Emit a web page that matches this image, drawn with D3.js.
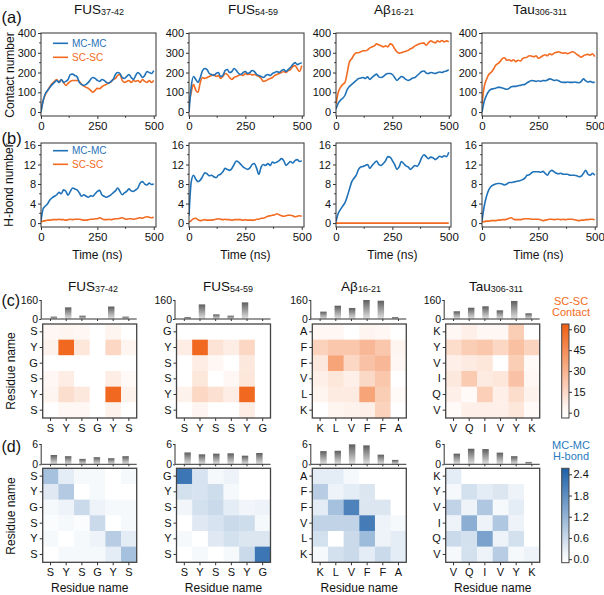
<!DOCTYPE html>
<html><head><meta charset="utf-8">
<script src="https://cdn.jsdelivr.net/npm/d3@7"></script>
<style>body{margin:0;background:#fff}svg{display:block}text{font-family:"Liberation Sans",Arial,Helvetica,sans-serif}</style>
</head><body><svg id="c" width="604" height="595"></svg>
<script>
// ---------------- DATA ----------------
const titleMain = ["FUS", "FUS", "A\u03b2", "Tau"];
const titleSub = ["37-42", "54-59", "16-21", "306-311"];

const T = [0,10,20,30,40,50,60,70,80,90,100,110,120,130,140,150,160,170,180,190,200,210,220,230,240,250,260,270,280,290,300,310,320,330,340,350,360,370,380,390,400,410,420,430,440,450,460,470,480,490,500];

const contactMC_FUS37 = [0,60,95,110,125,140,150,160,150,165,150,155,165,190,192,185,178,150,140,135,140,150,165,175,170,160,155,165,160,150,145,155,165,190,200,195,175,170,180,190,175,165,185,200,190,175,185,205,200,195,210];
const contactSC_FUS37 = [10,60,90,110,130,145,155,165,150,162,150,135,145,155,160,160,160,155,140,132,125,120,110,100,110,120,118,128,135,140,148,152,165,170,185,190,160,150,155,160,150,160,155,160,150,165,155,150,160,150,160];
const contactMC_FUS54 = [0,130,180,165,150,175,210,220,215,195,190,185,195,200,180,185,210,215,200,205,220,210,195,190,200,205,195,200,210,205,190,185,180,175,185,190,185,195,200,205,200,210,215,205,215,225,240,250,240,245,250];
const contactSC_FUS54 = [40,100,140,110,100,150,175,170,175,180,185,190,180,185,170,180,195,190,175,165,175,180,185,190,185,195,190,192,188,190,185,180,170,155,158,165,170,175,185,190,195,200,205,200,210,215,230,235,220,205,235];
const contactMC_Ab = [15,45,60,70,85,115,130,140,150,160,170,172,175,170,178,165,175,185,192,178,175,180,190,195,195,190,175,160,170,180,175,165,160,165,172,175,185,195,205,208,198,195,200,198,195,200,203,200,205,208,215];
const contactSC_Ab = [40,100,125,140,150,200,255,270,290,300,300,305,310,310,315,325,330,335,345,340,335,330,335,330,345,340,320,305,298,300,305,308,312,320,325,335,340,345,348,350,338,350,360,355,350,360,355,362,355,360,355];
const contactMC_Tau = [0,55,85,105,115,118,120,125,125,122,118,115,120,128,130,130,133,135,138,140,148,155,160,158,155,158,155,160,158,162,168,165,160,162,158,152,150,150,152,150,150,152,150,148,155,168,158,152,155,150,150];
const contactSC_Tau = [40,130,165,190,200,215,235,245,255,270,275,262,265,258,265,255,262,258,270,275,278,285,283,280,285,272,278,285,290,285,295,290,298,302,305,300,298,300,295,300,305,302,292,285,278,285,290,292,288,295,280];

const hbMC_FUS37 = [0.5,3,3.5,4,4.8,5.2,5.5,5.8,6.3,6,6.8,6.5,5.7,6.5,7.2,7,6.8,6.2,5.5,5.8,5.5,5.3,5.6,5.5,6,6.5,6.7,5.8,5.5,5.3,5.5,5.8,6.2,6.6,7.2,6.5,5.8,6.2,6.5,7,6.6,6.5,6.8,7.2,8.2,8.5,8,7.8,8.2,7.9,8];
const hbSC_FUS37 = [0.3,0.4,0.5,0.6,0.6,0.7,0.7,0.7,0.8,0.7,0.7,0.6,0.7,0.8,0.7,0.8,0.8,0.8,0.7,0.6,0.6,0.7,0.8,0.8,0.9,0.9,1.1,0.9,0.7,0.7,0.8,0.7,0.8,0.9,0.9,1.0,1.1,0.9,0.8,0.9,0.9,0.8,0.9,1.0,1.1,1.0,1.2,1.3,1.2,1.1,1.2];
const hbMC_FUS54 = [1.5,8.5,9.8,9,8.5,8.8,9.5,10.3,10.1,9.7,9.8,9.5,9.3,9.8,10,10.5,11.2,11,10.8,11.2,12,12.7,12.5,12,11.5,11.2,11,11.3,12,12.2,11.2,10,11.5,12,11.8,12.2,11.8,12.5,12.3,12.5,12.8,13.2,12.8,11.8,12.2,12.6,12.3,12.8,13,12.6,12.8];
const hbSC_FUS54 = [0.2,0.5,0.9,1,0.7,0.5,0.6,0.7,0.6,0.6,0.6,0.7,0.8,0.9,0.8,0.7,0.8,0.7,0.7,0.6,0.7,0.7,0.7,0.7,0.6,0.7,0.6,0.6,0.6,0.6,0.8,0.8,1.0,1.0,1.2,1.4,1.5,1.6,1.7,1.9,1.7,1.5,1.4,1.5,1.6,1.6,1.5,1.3,1.4,1.5,1.4];
const hbMC_Ab = [0.3,2,2.8,3.5,4.2,5.5,7,8.5,9.2,9.8,11,11.5,11.6,11.8,12,11.2,11.8,12.3,12.7,12,11.8,12.2,12.8,13.6,13.5,12.8,12,11,11.5,12.6,12.2,11.7,11.5,11,11.4,11.8,11.6,12.3,13.4,14,13.6,13.2,13.5,13.4,13,13.3,13.7,13.5,13.8,13.6,14.5];
const hbSC_Ab = [0,0,0,0,0,0,0,0,0,0,0,0,0,0,0,0,0,0,0,0,0,0,0,0,0,0,0,0,0,0,0,0,0,0,0,0,0,0,0,0,0,0,0,0,0,0,0,0,0,0,0];
const hbMC_Tau = [0.5,3.5,5.5,6.8,7.5,7.8,8,8.1,8.1,8,7.8,8,8.3,8.3,8.4,8.5,8.6,8.7,8.9,9.2,9.8,9.9,10.3,10.5,10.5,10.5,10.4,10.6,10.2,9.8,10.5,10.8,10.5,10.2,10.1,10.2,10,10,10,9.8,9.8,9.8,9.7,9.5,9.6,10.2,10.8,10,9.8,10.2,9.8];
const hbSC_Tau = [0.3,0.3,0.4,0.4,0.5,0.5,0.5,0.6,0.6,0.7,0.7,0.8,1.0,1.1,0.8,0.7,0.7,0.7,0.8,0.9,0.9,0.9,0.8,0.8,0.8,0.8,0.7,0.5,0.6,0.7,0.8,0.8,0.7,0.8,0.8,0.7,0.8,0.7,0.8,0.8,0.8,0.7,0.6,0.5,0.6,0.6,0.7,0.7,0.8,0.8,0.7];

const contactTicks = [0, 100, 200, 300, 400];
const hbTicks = [0, 4, 8, 12, 16];
const timeTicks = [0, 250, 500];

// residue sequences (columns) and row labels (top to bottom)
const colsFUS37 = ["S","Y","S","G","Y","S"], rowsFUS37 = ["S","Y","G","S","Y","S"];
const colsFUS54 = ["S","Y","S","S","Y","G"], rowsFUS54 = ["G","Y","S","S","Y","S"];
const colsAb = ["K","L","V","F","F","A"], rowsAb = ["A","F","F","V","L","K"];
const colsTau = ["V","Q","I","V","Y","K"], rowsTau = ["K","Y","V","I","Q","V"];

// SC-SC contact matrices (rows top to bottom)
const scFUS37 = [[3,4,3,0,4,0],[5,60,10,0,16,4],[0,0,0,0,0,0],[3,7,0,0,7,2],[4,13,9,0,60,5],[0,3,3,0,5,0]];
const scFUS54 = [[0,0,0,0,0,0],[7,60,11,7,16,0],[0,7,3,0,9,0],[0,10,0,3,10,0],[5,16,12,7,60,0],[0,4,0,0,7,0]];
const scAb = [[3,3,0,4,3,0],[18,22,22,28,22,4],[9,36,16,24,28,3],[6,10,6,15,22,0],[4,8,8,36,20,2],[0,4,5,6,18,0]];
const scTau = [[3,6,3,3,20,0],[14,20,22,16,25,17],[6,8,10,0,20,2],[9,21,8,10,24,3],[6,2,19,6,14,5],[2,6,6,6,10,2]];
// SC-SC contact column totals (bars)
const scBarsFUS37 = [20, 98, 28, 0, 105, 20];
const scBarsFUS54 = [17, 123, 39, 28, 140, 0];
const scBarsAb = [62, 112, 93, 160, 154, 17];
const scBarsTau = [65, 95, 107, 73, 152, 48];

// MC-MC H-bond matrices (rows top to bottom)
const mcFUS37 = [[1.0,0.3,0.1,0.1,0,0.1],[0.35,0.85,0,0.1,0,0],[0.1,0.2,0.6,0.2,0.1,0.1],[0.05,0.1,0.05,0.6,0,0.1],[0.1,0,0.1,0.2,0.8,0.3],[0,0.1,0.1,0.1,0.3,1.0]];
const mcFUS54 = [[2.2,0.45,0.1,0.2,0,0],[0.5,0.45,0.55,0.1,0,0],[0.15,0.5,0.6,0.3,0.15,0.2],[0,0.35,0.45,0.6,0.55,0.1],[0.1,0,0.35,0.5,0.4,0.4],[0,0.1,0,0.1,0.6,2.2]];
const mcAb = [[0.3,0.3,0.1,0,0,0],[0.8,0.2,0.3,0.4,0,0],[0.3,1.0,2.0,0.4,0.4,0],[0.7,0.7,0.7,2.1,0.2,0.1],[0.5,0,0.6,1.1,0.2,0.3],[0.1,0.5,0.6,0.3,0.6,0.3]];
const mcTau = [[0.3,0,0,0,0,0],[0.1,0.5,0.3,0.4,0.2,0],[0.7,0.2,0.9,0.1,0.3,0],[0.2,1.3,0.2,0.9,0.2,0],[0.6,0.5,1.5,0.2,0.5,0],[0.1,0.5,0.2,0.8,0.1,0.2]];
const mcBarsFUS37 = [2.75, 2.4, 1.6, 2.1, 1.8, 2.4];
const mcBarsFUS54 = [3.5, 2.95, 3.15, 3.25, 2.55, 3.35];
const mcBarsAb = [3.9, 4.0, 5.9, 5.6, 2.85, 1.3];
const mcBarsTau = [3.15, 4.6, 4.5, 3.45, 2.4, 0.7];

const scColorTicks = [0, 15, 30, 45, 60];
const mcColorTicks = [0, 0.6, 1.2, 1.8, 2.4];

// ---------------- DRAWING ----------------
const svg = d3.select("#c");
const BLUE = "#1f72b8", ORANGE = "#f26b21", AX = "#333";
const defs = svg.append("defs");

function title(x, y, main, sub) {
  const t = svg.append("text").attr("x", x).attr("y", y).attr("text-anchor", "middle")
    .attr("font-size", 13.5).attr("fill", "#111");
  t.append("tspan").text(main);
  t.append("tspan").attr("font-size", 9).attr("dy", 1).text(sub);
}
function label(x, y, txt, size, opts = {}) {
  const t = svg.append("text").attr("x", x).attr("y", y).attr("font-size", size)
    .attr("fill", opts.fill || "#111").attr("text-anchor", opts.anchor || "start").text(txt);
  if (opts.rotate) t.attr("transform", `rotate(-90,${x},${y})`);
  return t;
}
function styleAxis(g) {
  g.select(".domain").remove();
  g.selectAll(".tick line").attr("stroke", AX);
  g.selectAll(".tick text").attr("fill", "#111").attr("font-family", '"Liberation Sans",Arial,sans-serif');
}

const panelX = [41, 189, 336, 482], panelW = 115;
const contactSets = [[contactMC_FUS37, contactSC_FUS37],[contactMC_FUS54, contactSC_FUS54],[contactMC_Ab, contactSC_Ab],[contactMC_Tau, contactSC_Tau]];
const hbSets = [[hbMC_FUS37, hbSC_FUS37],[hbMC_FUS54, hbSC_FUS54],[hbMC_Ab, hbSC_Ab],[hbMC_Tau, hbSC_Tau]];

function linePanel(i, top, bottom, yDom, yTicks, yMinorStep, series, xTitle, legend, id) {
  const L = panelX[i], R = L + panelW;
  const x = d3.scaleLinear().domain([0, 510]).range([L, R]);
  const y = d3.scaleLinear().domain(yDom).range([bottom, top]);
  const cid = "clip" + id + i;
  defs.append("clipPath").attr("id", cid).append("rect").attr("x", L).attr("y", top).attr("width", panelW).attr("height", bottom - top);
  const g = svg.append("g");
  const line = d3.line().x((d, k) => x(T[k])).y(d => y(d)).curve(d3.curveMonotoneX);
  const lg = g.append("g").attr("clip-path", `url(#${cid})`);
  lg.append("path").datum(series[1]).attr("d", line).attr("fill", "none").attr("stroke", ORANGE).attr("stroke-width", 1.6);
  lg.append("path").datum(series[0]).attr("d", line).attr("fill", "none").attr("stroke", BLUE).attr("stroke-width", 1.6);
  g.append("rect").attr("x", L).attr("y", top).attr("width", panelW).attr("height", bottom - top)
    .attr("fill", "none").attr("stroke", AX).attr("stroke-width", 1);
  const minorY = d3.range(yTicks[0], yTicks[yTicks.length - 1] + 1e-9, yMinorStep).filter(v => !yTicks.includes(v));
  const gy = g.append("g").attr("transform", `translate(${L},0)`).call(d3.axisLeft(y).tickValues(yTicks).tickSize(3).tickPadding(2));
  styleAxis(gy); gy.selectAll("text").attr("font-size", 11);
  g.append("g").selectAll("line").data(minorY).join("line").attr("x1", L - 1.8).attr("x2", L)
    .attr("y1", d => y(d)).attr("y2", d => y(d)).attr("stroke", AX);
  const gx = g.append("g").attr("transform", `translate(0,${bottom})`).call(d3.axisBottom(x).tickValues(timeTicks).tickSize(3).tickPadding(3));
  styleAxis(gx); gx.selectAll("text").attr("font-size", 11.5);
  g.append("g").selectAll("line").data([125, 375]).join("line").attr("y1", bottom).attr("y2", bottom + 1.8)
    .attr("x1", d => x(d)).attr("x2", d => x(d)).attr("stroke", AX);
  if (xTitle) label(x(250), bottom + 32, "Time (ns)", 12, { anchor: "middle" });
  if (legend) {
    const [y1, y2] = legend;
    [[y1, BLUE, "MC-MC"], [y2, ORANGE, "SC-SC"]].forEach(([yy, c, t]) => {
      g.append("line").attr("x1", L + 12).attr("x2", L + 27).attr("y1", yy).attr("y2", yy).attr("stroke", c).attr("stroke-width", 1.6);
      g.append("text").attr("x", L + 31).attr("y", yy + 3.5).attr("font-size", 10).attr("fill", c).text(t);
    });
  }
}

const topTitleX = [99, 253, 394, 540];
for (let i = 0; i < 4; i++) {
  title(topTitleX[i], 14, titleMain[i], titleSub[i]);
  linePanel(i, 33, 116, [-20, 400], contactTicks, 50, contactSets[i], false, i === 0 ? [43.3, 57.3] : null, "a");
  linePanel(i, 143, 227, [-0.8, 16.4], hbTicks, 2, hbSets[i], true, i === 0 ? [150.7, 164.3] : null, "b");
}
label(1.5, 23, "(a)", 16.5);
label(1.5, 144, "(b)", 16.5);
label(1.5, 306, "(c)", 16);
label(1.5, 452, "(d)", 16);
label(14, 75, "Contact number", 12, { anchor: "middle", rotate: true });
label(13, 185, "H-bond number", 12, { anchor: "middle", rotate: true });
label(15, 371, "Residue name", 12, { anchor: "middle", rotate: true });
label(15, 516, "Residue name", 12, { anchor: "middle", rotate: true });

// ---------- heatmaps ----------
const hmLeft = [42.7, 176.5, 312.3, 445.7], hmSize = 94;
const scColor = d3.scaleLinear().domain([0, 63.8]).range(["#ffffff", "#f05e12"]).clamp(true);
const mcColor = d3.scaleLinear().domain([0, 2.57]).range(["#ffffff", "#1b5fa8"]).clamp(true);

const grad = defs.append("linearGradient").attr("id", "barGrad").attr("x1", 0).attr("y1", 0).attr("x2", 0).attr("y2", 1);
grad.append("stop").attr("offset", 0).attr("stop-color", "#5e5e5e");
grad.append("stop").attr("offset", 1).attr("stop-color", "#e2e2e2");

function heatBlock(i, top, mat, cols, rows, color, barVals, barMax, barBase, barTop) {
  const L = hmLeft[i];
  const x = d3.scaleBand().domain(d3.range(6)).range([L, L + hmSize]);
  const y = d3.scaleBand().domain(d3.range(6)).range([top, top + hmSize]);
  const g = svg.append("g");
  mat.forEach((row, r) => row.forEach((v, c) => {
    g.append("rect").attr("x", x(c)).attr("y", y(r)).attr("width", x.bandwidth() + 0.3).attr("height", y.bandwidth() + 0.3).attr("fill", color(v));
  }));
  g.append("rect").attr("x", L).attr("y", top).attr("width", hmSize).attr("height", hmSize)
    .attr("fill", "none").attr("stroke", "#444").attr("stroke-width", 1.3);
  const gl = g.append("g").attr("transform", `translate(${L},0)`).call(d3.axisLeft(y).tickSize(3).tickPadding(2).tickFormat(k => rows[k]));
  styleAxis(gl); gl.selectAll("text").attr("font-size", 11);
  const gb = g.append("g").attr("transform", `translate(0,${top + hmSize})`).call(d3.axisBottom(x).tickSize(3).tickPadding(3).tickFormat(k => cols[k]));
  styleAxis(gb); gb.selectAll("text").attr("font-size", 11);
  // bars
  const xb = d3.scaleBand().domain(d3.range(6)).range([L, L + hmSize]).padding(0.55);
  const yb = d3.scaleLinear().domain([0, barMax]).range([barBase, barTop]);
  const AXX = L - 1.5;
  g.selectAll(".bar").data(barVals).join("rect").attr("x", (d, k) => xb(k)).attr("width", xb.bandwidth())
    .attr("y", d => yb(d)).attr("height", d => barBase - yb(d)).attr("fill", "url(#barGrad)");
  g.append("line").attr("x1", AXX).attr("x2", L + hmSize).attr("y1", barBase).attr("y2", barBase).attr("stroke", AX);
  g.append("line").attr("x1", AXX).attr("x2", AXX).attr("y1", barBase).attr("y2", barTop).attr("stroke", AX);
  g.selectAll(".bt").data(d3.range(6)).join("line").attr("x1", k => x(k) + x.bandwidth() / 2).attr("x2", k => x(k) + x.bandwidth() / 2)
    .attr("y1", barBase).attr("y2", barBase + 2).attr("stroke", AX);
  const ga = g.append("g").attr("transform", `translate(${AXX},0)`).call(d3.axisLeft(yb).tickValues([0, barMax]).tickSize(2).tickPadding(1).tickFormat(d => String(d)));
  styleAxis(ga); ga.selectAll("text").attr("font-size", 10.5);
}

const cTitleX = [93, 228, 361, 496];
const scMats = [scFUS37, scFUS54, scAb, scTau], mcMats = [mcFUS37, mcFUS54, mcAb, mcTau];
const colSets = [colsFUS37, colsFUS54, colsAb, colsTau], rowSets = [rowsFUS37, rowsFUS54, rowsAb, rowsTau];
const scBars = [scBarsFUS37, scBarsFUS54, scBarsAb, scBarsTau], mcBars = [mcBarsFUS37, mcBarsFUS54, mcBarsAb, mcBarsTau];
for (let i = 0; i < 4; i++) {
  title(cTitleX[i], 291, titleMain[i], titleSub[i]);
  heatBlock(i, 324, scMats[i], colSets[i], rowSets[i], scColor, scBars[i], 160, 319, 300);
  heatBlock(i, 468.3, mcMats[i], colSets[i], rowSets[i], mcColor, mcBars[i], 6, 464.3, 444);
}
hmLeft.forEach(L => label(L + hmSize / 2, 592, "Residue name", 12, { anchor: "middle" }));

// ---------- colorbars ----------
function colorbar(top, bottom, dom, color, ticks, fmt, id, lab1, lab2, labColor) {
  const x0 = 561.7, w = 7.3;
  const s = d3.scaleLinear().domain(dom).range([bottom, top]);
  const gr = defs.append("linearGradient").attr("id", id).attr("x1", 0).attr("y1", 1).attr("x2", 0).attr("y2", 0);
  d3.range(0, 1.0001, 0.1).forEach(o => gr.append("stop").attr("offset", o).attr("stop-color", color(dom[0] + o * (dom[1] - dom[0]))));
  svg.append("rect").attr("x", x0).attr("y", top).attr("width", w).attr("height", bottom - top)
    .attr("fill", `url(#${id})`).attr("stroke", "#444").attr("stroke-width", 1);
  const ga = svg.append("g").attr("transform", `translate(${x0 + w},0)`).call(d3.axisRight(s).tickValues(ticks).tickSize(3).tickPadding(1.5).tickFormat(fmt));
  styleAxis(ga); ga.selectAll("text").attr("font-size", 11);
  label(571, top - 19, lab1, 11, { anchor: "middle", fill: labColor });
  label(571, top - 8.5, lab2, 11, { anchor: "middle", fill: labColor });
}
colorbar(324, 418, [-3.8, 63.8], scColor, scColorTicks, d3.format("d"), "cbSC", "SC-SC", "Contact", "#f26b21");
colorbar(468.3, 562.7, [-0.1, 2.57], mcColor, mcColorTicks, d3.format(".1f"), "cbMC", "MC-MC", "H-bond", "#2a7ac0");
</script></body></html>
